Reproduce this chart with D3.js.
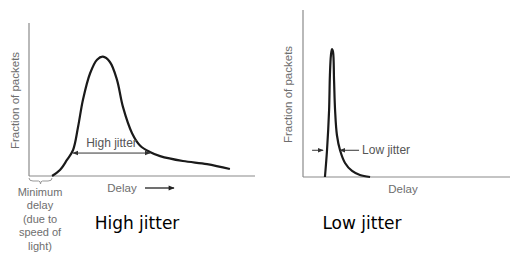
<!DOCTYPE html>
<html><head><meta charset="utf-8">
<script src="https://cdn.jsdelivr.net/npm/d3@7"></script>
<style>body{margin:0;background:#fff}svg{display:block}</style>
</head><body>
<svg id="c" width="510" height="253"></svg>
<script>
// High jitter distribution (delay units 0-100, fraction 0-1)
const highDelay = [10.2,13.7,16.8,19.5,21.7,23.9,27.0,30.1,32.7,35.8,38.9,41.6,45.6,49.1,53.5,58.0,68.1,78.8,88.9];
const highFrac  = [0,0.039,0.105,0.17,0.32,0.50,0.67,0.76,0.78,0.745,0.63,0.45,0.28,0.20,0.157,0.13,0.098,0.078,0.046];
// Low jitter distribution
const lowDelay = [10.6,11.6,12.6,13.0,13.5,14.0,14.5,15.0,15.5,16.4,17.9,20.3,23.7,27.5,32.4];
const lowFrac  = [0,0.16,0.40,0.61,0.73,0.766,0.75,0.58,0.40,0.25,0.16,0.084,0.036,0.012,0];
// jitter span markers [from, to, level]
const highSpan = [19.5, 53.5, 0.15];
const lowSpan = [9.7, 17.9, 0.16];
const axisLabelY = "Fraction of packets";
const axisLabelX = "Delay";
const captions = ["High jitter", "Low jitter"];
const minDelayLines = ["Minimum","delay","(due to","speed of","light)"];

const svg = d3.select("#c");
const defs = svg.append("defs");
defs.append("marker").attr("id","ah").attr("viewBox","0 0 10 10").attr("refX",9).attr("refY",5)
  .attr("markerWidth",6).attr("markerHeight",6).attr("markerUnits","userSpaceOnUse").attr("orient","auto-start-reverse")
  .append("path").attr("d","M0,1L10,5L0,9Z").attr("fill","#333");
defs.append("marker").attr("id","ah2").attr("viewBox","0 0 10 10").attr("refX",9).attr("refY",5)
  .attr("markerWidth",8).attr("markerHeight",6).attr("markerUnits","userSpaceOnUse").attr("orient","auto")
  .append("path").attr("d","M0,1L10,5L0,9Z").attr("fill","#222");

const grey = "#6e6e6e";
const font = "Arial, 'Liberation Sans', sans-serif";

function panel(x0, x1, yTop, yBot, delay, frac) {
  const x = d3.scaleLinear().domain([0,100]).range([x0,x1]);
  const y = d3.scaleLinear().domain([0,1]).range([yBot,yTop]);
  const g = svg.append("g");
  g.append("line").attr("x1",x(0)).attr("x2",x(0)).attr("y1",y(1)).attr("y2",y(0)).attr("stroke","#8a8a8a").attr("stroke-width",1.2);
  g.append("line").attr("x1",x(0)).attr("x2",x(100)).attr("y1",y(0)).attr("y2",y(0)).attr("stroke","#8a8a8a").attr("stroke-width",1.2);
  const line = d3.line().x(d=>x(d[0])).y(d=>y(d[1])).curve(d3.curveCatmullRom.alpha(0.5));
  g.append("path").datum(d3.zip(delay, frac)).attr("d",line).attr("fill","none")
    .attr("stroke","#1a1a1a").attr("stroke-width",2.2).attr("stroke-linejoin","round");
  return {x,y,g};
}

// Left panel
const L = panel(29, 255, 23, 176, highDelay, highFrac);
L.g.append("text").attr("transform",`translate(19,${(L.y(0)+L.y(1))/2+1}) rotate(-90)`).attr("text-anchor","middle")
  .attr("font-family",font).attr("font-size",11.5).attr("fill",grey).text(axisLabelY);
L.g.append("line").attr("x1",L.x(highSpan[0])).attr("x2",L.x(highSpan[1])).attr("y1",L.y(highSpan[2])).attr("y2",L.y(highSpan[2]))
  .attr("stroke","#333").attr("stroke-width",1).attr("marker-start","url(#ah)").attr("marker-end","url(#ah)");
L.g.append("text").attr("x",(L.x(highSpan[0])+L.x(highSpan[1]))/2).attr("y",L.y(highSpan[2])-6).attr("text-anchor","middle")
  .attr("font-family",font).attr("font-size",12).attr("fill","#555").text(captions[0]);
L.g.append("text").attr("x",122).attr("y",192).attr("text-anchor","middle")
  .attr("font-family",font).attr("font-size",11.5).attr("fill",grey).text(axisLabelX);
L.g.append("line").attr("x1",145).attr("x2",174).attr("y1",188).attr("y2",188).attr("stroke","#222").attr("stroke-width",1.3).attr("marker-end","url(#ah2)");
// brace
const bx0 = L.x(0), bx1 = L.x(highDelay[0]), bm = (bx0+bx1)/2;
L.g.append("path").attr("d",`M${bx0},178 Q${bx0},181 ${bx0+4},181 L${bm-2},181 Q${bm},181 ${bm},184 Q${bm},181 ${bm+2},181 L${bx1-4},181 Q${bx1},181 ${bx1},178`)
  .attr("fill","none").attr("stroke","#999").attr("stroke-width",1);
L.g.selectAll("text.md").data(minDelayLines).join("text").attr("class","md")
  .attr("x",40).attr("y",(d,i)=>196+i*13.4).attr("text-anchor","middle")
  .attr("font-family",font).attr("font-size",11).attr("fill",grey).text(d=>d);

// Right panel
const R = panel(303, 510, 10, 177, lowDelay, lowFrac);
R.g.append("text").attr("transform",`translate(292,${(R.y(0)+R.y(1))/2+1}) rotate(-90)`).attr("text-anchor","middle")
  .attr("font-family",font).attr("font-size",11.5).attr("fill",grey).text(axisLabelY);
R.g.append("line").attr("x1",R.x(lowSpan[0])-11).attr("x2",R.x(lowSpan[0])).attr("y1",R.y(lowSpan[2])).attr("y2",R.y(lowSpan[2]))
  .attr("stroke","#333").attr("stroke-width",1).attr("marker-end","url(#ah)");
R.g.append("line").attr("x1",R.x(lowSpan[1])+19).attr("x2",R.x(lowSpan[1])).attr("y1",R.y(lowSpan[2])).attr("y2",R.y(lowSpan[2]))
  .attr("stroke","#333").attr("stroke-width",1).attr("marker-end","url(#ah)");
R.g.append("text").attr("x",R.x(lowSpan[1])+22).attr("y",R.y(lowSpan[2])+4)
  .attr("font-family",font).attr("font-size",12).attr("fill","#555").text(captions[1]);
R.g.append("text").attr("x",403).attr("y",193).attr("text-anchor","middle")
  .attr("font-family",font).attr("font-size",11.5).attr("fill",grey).text(axisLabelX);

// Captions
svg.selectAll("text.cap").data(captions).join("text").attr("class","cap")
  .attr("x",(d,i)=>[137,362][i]).attr("y",229).attr("text-anchor","middle")
  .attr("font-family","'DejaVu Sans', Verdana, sans-serif").attr("font-size",17).attr("fill","#000").text(d=>d);
</script>
</body></html>
